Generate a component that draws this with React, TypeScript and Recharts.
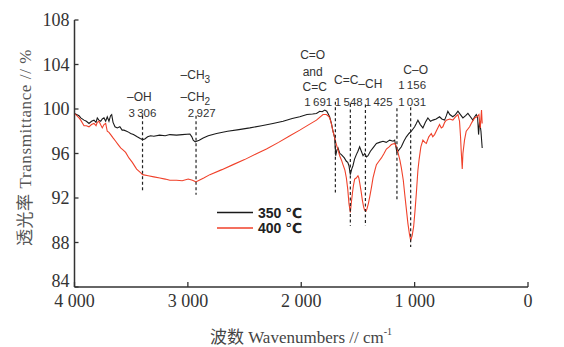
import React from "react";
import { LineChart, Line, XAxis, YAxis, ReferenceLine, ReferenceDot } from "recharts";

// 350 ℃ 样品
const WN_350 = [
  4000, 3960, 3945, 3916, 3895, 3872, 3850, 3828, 3810, 3799, 3785, 3769, 3755, 3740, 3725, 3711, 3696, 3682, 3672,
  3660, 3643, 3623, 3600, 3580, 3564, 3540, 3520, 3505, 3480, 3447, 3420, 3400, 3380, 3355, 3329, 3300, 3250, 3200,
  3159, 3100, 3050, 2982, 2965, 2953, 2935, 2923, 2900, 2865, 2820, 2747, 2650, 2550, 2454, 2350, 2250, 2160, 2080,
  2013, 1950, 1900, 1866, 1837, 1815, 1793, 1775, 1764, 1750, 1734, 1720, 1705, 1696, 1686, 1676, 1660, 1646, 1620,
  1602, 1590, 1579, 1567, 1555, 1544, 1530, 1514, 1500, 1485, 1470, 1455, 1440, 1425, 1411, 1390, 1367, 1337, 1310,
  1279, 1250, 1220, 1190, 1176, 1165, 1156, 1140, 1117, 1095, 1073, 1050, 1029, 1000, 985, 971, 950, 927, 905, 883,
  860, 839, 810, 780, 760, 736, 720, 707, 690, 663, 640, 618, 596, 574, 550, 530, 508, 486, 470, 456, 445, 436, 427,
  415, 404,
];
const T_350 = [
  99.6, 99.4, 99.2, 99.0, 98.9, 98.7, 98.9, 99.0, 98.8, 99.2, 99.0, 98.9, 99.1, 99.2, 98.9, 99.3, 98.9, 99.4, 99.5,
  98.8, 98.4, 98.3, 98.4, 98.1, 98.1, 98.0, 97.9, 97.8, 97.7, 97.5, 97.35, 97.25, 97.3, 97.5, 97.6, 97.55, 97.65, 97.6,
  97.7, 97.65, 97.7, 97.75, 97.5, 97.2, 97.05, 97.1, 97.2, 97.4, 97.6, 97.8, 98.0, 98.15, 98.3, 98.5, 98.7, 98.9,
  99.15, 99.3, 99.5, 99.55, 99.6, 99.8, 99.75, 99.9, 99.8, 99.6, 99.3, 98.7, 98.0, 97.4, 95.8, 96.3, 96.5, 96.0, 95.9,
  95.6, 95.3, 95.2, 94.9, 94.1, 94.6, 94.9, 95.5, 95.9, 96.2, 96.6, 96.2, 95.8, 96.0, 95.7, 95.8, 96.2, 96.5, 96.9,
  97.0, 97.1, 97.0, 97.2, 97.1, 97.2, 96.6, 96.1, 96.3, 96.6, 97.1, 97.5, 97.8, 98.0, 98.4, 98.7, 99.0, 98.6, 98.3,
  98.8, 99.2, 98.9, 99.0, 99.1, 99.3, 99.1, 99.0, 99.4, 99.8, 99.5, 99.3, 99.5, 99.8, 99.5, 99.2, 99.4, 99.6, 99.3,
  99.0, 99.3, 99.5, 99.3, 97.7, 98.9, 98.0, 96.5,
];

// 400 ℃ 样品
const WN_400 = [
  4000, 3960, 3945, 3916, 3895, 3872, 3850, 3828, 3810, 3799, 3784, 3770, 3755, 3740, 3725, 3711, 3696, 3681, 3660,
  3637, 3615, 3593, 3570, 3549, 3520, 3490, 3452, 3420, 3399, 3350, 3300, 3247, 3200, 3159, 3100, 3050, 2997, 2960,
  2940, 2930, 2900, 2860, 2806, 2700, 2601, 2500, 2400, 2307, 2200, 2100, 2013, 1940, 1866, 1808, 1778, 1760, 1749,
  1735, 1720, 1705, 1690, 1675, 1661, 1645, 1632, 1615, 1602, 1590, 1579, 1567, 1558, 1549, 1540, 1529, 1515, 1500,
  1492, 1485, 1472, 1461, 1450, 1441, 1430, 1421, 1408, 1396, 1380, 1367, 1350, 1337, 1315, 1293, 1270, 1249, 1225,
  1205, 1176, 1160, 1147, 1130, 1117, 1100, 1088, 1073, 1059, 1045, 1035, 1022, 1009, 997, 985, 971, 960, 945, 927,
  910, 897, 875, 853, 840, 824, 800, 780, 765, 751, 735, 721, 690, 663, 640, 618, 604, 595, 589, 580, 574, 560, 545,
  530, 515, 495, 471, 450, 433, 421, 410, 404,
];
const T_400 = [
  99.6, 99.2, 99.0, 98.5, 98.5, 98.4, 98.6, 98.7, 98.5, 98.8, 98.9, 98.6, 98.3, 98.6, 98.7, 98.0, 97.9, 97.7, 97.4,
  97.1, 96.8, 96.5, 96.3, 96.1, 95.6, 95.2, 94.6, 94.3, 94.1, 94.0, 93.9, 93.8, 93.7, 93.6, 93.6, 93.55, 93.7, 93.6,
  93.5, 93.45, 93.6, 93.8, 94.1, 94.55, 95.0, 95.45, 95.95, 96.4, 97.0, 97.6, 98.1, 98.55, 99.0, 99.5, 99.5, 99.35,
  99.2, 98.7, 98.0, 97.4, 96.8, 96.3, 95.8, 95.4, 95.0, 94.5, 93.8, 92.8, 91.5, 90.7, 91.6, 92.4, 93.1, 93.7, 93.8,
  94.0, 93.8, 93.4, 92.6, 91.8, 91.2, 90.9, 90.8, 91.0, 91.5, 92.1, 93.0, 93.8, 94.5, 95.0, 95.3, 95.6, 96.0, 96.4,
  96.6, 96.8, 96.9, 96.6, 96.1, 95.4, 94.7, 93.6, 92.4, 91.0, 89.7, 88.7, 88.2, 88.6, 89.4, 90.8, 92.4, 94.5, 95.5,
  96.6, 97.2, 97.0, 96.9, 97.5, 97.8, 97.5, 97.7, 98.2, 98.6, 98.3, 98.4, 98.8, 99.0, 99.1, 99.0, 99.3, 99.5, 98.9,
  97.5, 96.2, 94.6, 96.0, 97.2, 98.0, 98.2, 98.4, 98.8, 99.2, 99.3, 99.5, 98.3, 99.9, 98.7,
];

const X_TICKS = [4000, 3000, 2000, 1000, 0];
const Y_TICKS = [84, 88, 92, 96, 100, 104, 108];

// 特征峰：标注文字、虚线所在位置及上下端
const PEAK_TEXT = ["3\u2009306", "2\u2009927", "1\u2009691", "1\u2009548", "1\u2009425", "1\u2009156", "1\u2009031"];
const PEAK_LINE_X = [3400, 2928, 1699, 1567, 1434, 1156, 1035];
const PEAK_LINE_TOP = [99.4, 99.4, 100.65, 100.45, 100.4, 100.06, 100.15];
const PEAK_LINE_BOTTOM = [92.5, 92.3, 92.5, 89.5, 89.5, 91.7, 87.6];
const PEAK_TEXT_X = [3401, 2877, 1850, 1581, 1317, 1022, 1022];
const PEAK_TEXT_Y = [99.64, 99.64, 100.63, 100.63, 100.63, 102.16, 100.63];

// 官能团标注
const GROUPS = [
  { x: 3427, y: 101.08, main: "\u2013OH", sub: "", tail: "" },
  { x: 2934, y: 103.06, main: "\u2013CH", sub: "3", tail: "" },
  { x: 2934, y: 101.08, main: "\u2013CH", sub: "2", tail: "" },
  { x: 1899, y: 104.85, main: "C=O", sub: "", tail: "" },
  { x: 1899, y: 103.33, main: "and", sub: "", tail: "" },
  { x: 1881, y: 101.98, main: "C=C", sub: "", tail: "" },
  { x: 1498, y: 102.6, main: "C=C", sub: "", tail: "\u2013CH" },
  { x: 991, y: 103.5, main: "C\u2013O", sub: "", tail: "" },
];

const SERIES = [
  { name: "350 ℃", wn: WN_350, t: T_350, color: "#1a1a1a" },
  { name: "400 ℃", wn: WN_400, t: T_400, color: "#f0412a" },
];

const SERIF = '"Liberation Serif", "Times New Roman", "Noto Sans CJK SC", serif';
const SANS = '"Liberation Sans", Arial, "DejaVu Sans", sans-serif';

const fmtWn = (v: number) => (v >= 1000 ? `${Math.floor(v / 1000)} ${String(v % 1000).padStart(3, "0")}` : String(v));

function YTick(props: any) {
  const { x, y, payload } = props;
  // 最下方的 84 上移，避免与横轴刻度文字重叠
  const shift = payload.value === 84 ? -6 : 0;
  return (
    <g>
      <line x1={x + 5} x2={x + 9} y1={y} y2={y} stroke="#333" strokeWidth={1.3} />
      <text x={x} y={y + shift} dy="0.35em" textAnchor="end" fontFamily={SERIF} fontSize={18} fill="#333">
        {payload.value}
      </text>
    </g>
  );
}

function XTick(props: any) {
  const { x, y, payload } = props;
  return (
    <g>
      <line x1={x} x2={x} y1={y - 4} y2={y - 9} stroke="#333" strokeWidth={1.3} />
      <text x={x} y={y + 16} textAnchor="middle" fontFamily={SERIF} fontSize={18} fill="#333">
        {fmtWn(payload.value)}
      </text>
    </g>
  );
}

function YTitle() {
  return (
    <text
      x={25}
      y={147.5}
      transform="rotate(-90 25 147.5)"
      textAnchor="middle"
      dominantBaseline="central"
      fontFamily={SERIF}
      fontSize={17}
      fill="#555"
      letterSpacing={0.6}
    >
      透光率 Transmittance // %
    </text>
  );
}

function XTitle() {
  return (
    <text x={301} y={337} textAnchor="middle" dominantBaseline="central" fontFamily={SERIF} fontSize={17} fill="#444">
      波数 Wavenumbers // cm
      <tspan dy={-6} fontSize={10}>
        -1
      </tspan>
    </text>
  );
}

function AnnoText(props: any) {
  const { viewBox, main, sub, tail, size } = props;
  const cx = viewBox.x + (viewBox.width || 0) / 2;
  const cy = viewBox.y + (viewBox.height || 0) / 2;
  return (
    <text x={cx} y={cy} dy="0.35em" textAnchor="middle" fontFamily={SANS} fontSize={size || 12} fill="#333">
      {main}
      {sub ? (
        <tspan dy={4} fontSize={10}>
          {sub}
        </tspan>
      ) : null}
      {tail ? <tspan dy={4}>{tail}</tspan> : null}
    </text>
  );
}

export default function App() {
  return (
    <div style={{ position: "absolute", left: 0, top: 0, width: 564, height: 347, background: "#fff" }}>
      <LineChart width={564} height={347} margin={{ top: 20, right: 36, bottom: 0, left: 0.5 }}>
        <XAxis
          type="number"
          dataKey="wn"
          domain={[0, 4000]}
          reversed
          ticks={X_TICKS}
          interval={0}
          height={60}
          tickSize={0}
          tickMargin={4}
          tickLine={false}
          axisLine={{ stroke: "#333", strokeWidth: 1.5 }}
          tick={<XTick />}
          label={<XTitle />}
          allowDataOverflow
        />
        <YAxis
          type="number"
          domain={[84, 108]}
          ticks={Y_TICKS}
          interval={0}
          width={74}
          tickSize={0}
          tickMargin={5}
          tickLine={false}
          axisLine={{ stroke: "#333", strokeWidth: 1.5 }}
          tick={<YTick />}
          label={<YTitle />}
          allowDataOverflow
        />
        {SERIES.map((s) => (
          <Line
            key={s.name}
            data={s.wn.map((w, i) => ({ wn: w, t: s.t[i] }))}
            dataKey="t"
            name={s.name}
            type="linear"
            stroke={s.color}
            strokeWidth={1.1}
            dot={false}
            activeDot={false}
            isAnimationActive={false}
          />
        ))}
        {PEAK_LINE_X.map((px, i) => (
          <ReferenceLine
            key={`pl-${i}`}
            segment={[
              { x: px, y: PEAK_LINE_TOP[i] },
              { x: px, y: PEAK_LINE_BOTTOM[i] },
            ]}
            stroke="#222"
            strokeWidth={1.2}
            strokeDasharray="3 2.5"
          />
        ))}
        {PEAK_TEXT.map((t, i) => (
          <ReferenceDot
            key={`pt-${i}`}
            x={PEAK_TEXT_X[i]}
            y={PEAK_TEXT_Y[i]}
            r={0}
            fill="none"
            stroke="none"
            label={<AnnoText main={t} sub="" tail="" size={11.5} />}
          />
        ))}
        {GROUPS.map((g, i) => (
          <ReferenceDot
            key={`g-${i}`}
            x={g.x}
            y={g.y}
            r={0}
            fill="none"
            stroke="none"
            label={<AnnoText main={g.main} sub={g.sub} tail={g.tail} />}
          />
        ))}
      </LineChart>
      <svg width={120} height={36} style={{ position: "absolute", left: 214, top: 203 }}>
        {SERIES.map((s, i) => (
          <g key={s.name}>
            <line x1={3} x2={39} y1={9.5 + i * 15.5} y2={9.5 + i * 15.5} stroke={s.color} strokeWidth={1.3} />
            <text
              x={44}
              y={9.5 + i * 15.5}
              dominantBaseline="central"
              fontFamily={SANS}
              fontSize={14}
              fontWeight={700}
              fill="#222"
            >
              {s.name}
            </text>
          </g>
        ))}
      </svg>
    </div>
  );
}
